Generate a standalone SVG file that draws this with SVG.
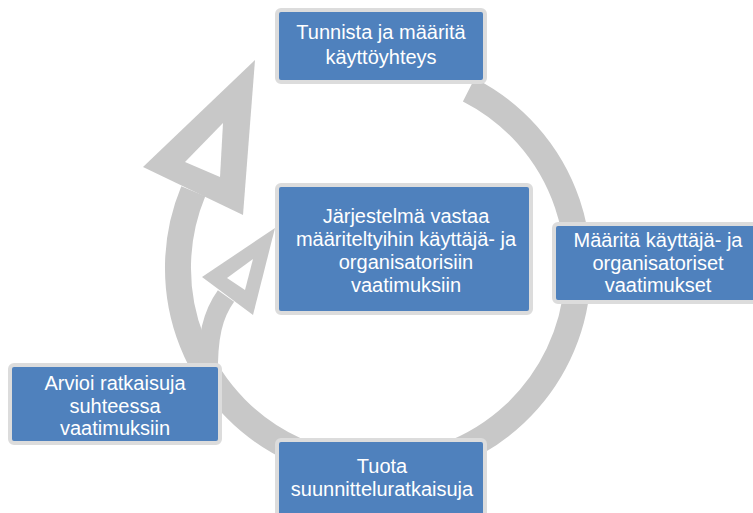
<svg xmlns="http://www.w3.org/2000/svg" width="753" height="513" viewBox="0 0 753 513">
  <style>
    .ring { fill: none; stroke: #c8c8c8; stroke-linecap: butt; }
    .head { fill: #c8c8c8; }
    .hole { fill: #ffffff; }
    .box { fill: #4f81bd; stroke: #dcdcdc; stroke-width: 4; }
    .lbl { font-family: "Liberation Sans", Arial, sans-serif; font-size: 20px; fill: #ffffff; text-anchor: middle; }
  </style>

  <g id="connectors">
    <!-- main circular arrow -->
    <path class="ring" stroke-width="26" d="M 468.8 89.8 A 200 200 0 1 1 193.3 191.2"/>
    <polygon class="head" points="255,60 143,167 243,215"/>
    <polygon class="hole" points="223,123 185,162 220,177"/>
    <!-- inner branch arrow -->
    <path class="ring" stroke-width="20" d="M 226 296 C 213 314, 207 336, 208 378"/>
    <polygon class="head" points="275,228 202,277 253,315"/>
    <polygon class="hole" points="253,259 227,278 245,290"/>
  </g>

  <g id="node-tunnista">
    <rect class="box" x="277" y="10" width="208" height="72" rx="4"/>
    <text class="lbl" x="381" y="39">Tunnista ja määritä</text>
    <text class="lbl" x="381" y="63.5">käyttöyhteys</text>
  </g>

  <g id="node-jarjestelma">
    <rect class="box" x="277" y="185" width="254" height="128" rx="4"/>
    <text class="lbl" x="406" y="223">Järjestelmä vastaa</text>
    <text class="lbl" x="406" y="246">määriteltyihin käyttäjä- ja</text>
    <text class="lbl" x="406" y="269">organisatorisiin</text>
    <text class="lbl" x="406" y="292">vaatimuksiin</text>
  </g>

  <g id="node-maarita">
    <rect class="box" x="554" y="224" width="210" height="78" rx="4"/>
    <text class="lbl" x="658" y="247">Määritä käyttäjä- ja</text>
    <text class="lbl" x="658" y="269.5">organisatoriset</text>
    <text class="lbl" x="658" y="292">vaatimukset</text>
  </g>

  <g id="node-arvioi">
    <rect class="box" x="10" y="365" width="210" height="78" rx="4"/>
    <text class="lbl" x="115" y="390">Arvioi ratkaisuja</text>
    <text class="lbl" x="115" y="412.5">suhteessa</text>
    <text class="lbl" x="115" y="435">vaatimuksiin</text>
  </g>

  <g id="node-tuota">
    <rect class="box" x="277" y="440" width="208" height="80" rx="4"/>
    <text class="lbl" x="382" y="473">Tuota</text>
    <text class="lbl" x="382" y="496">suunnitteluratkaisuja</text>
  </g>
</svg>
